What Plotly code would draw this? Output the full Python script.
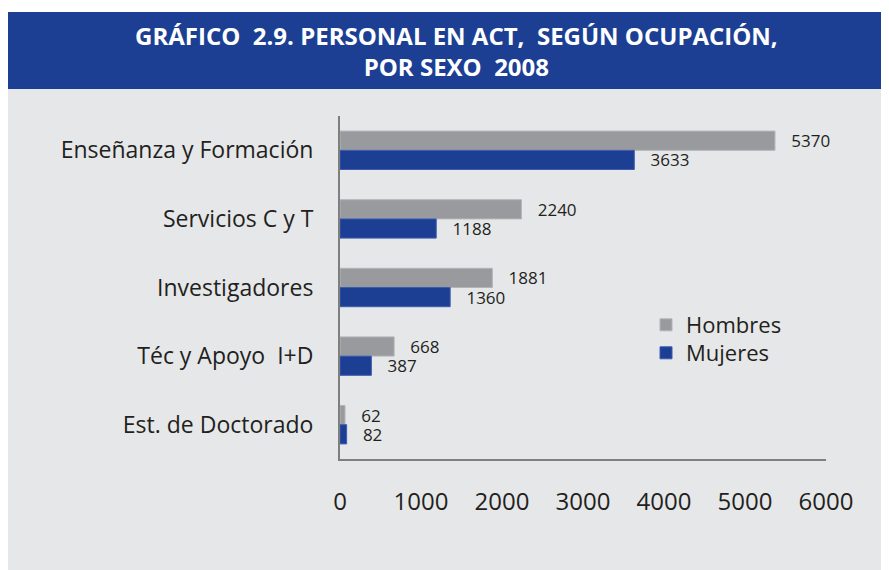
import plotly.graph_objects as go

categories = ["Enseñanza y Formación", "Servicios C y T", "Investigadores", "Téc y Apoyo  I+D", "Est. de Doctorado"]
hombres = [5370, 2240, 1881, 668, 62]
mujeres = [3633, 1188, 1360, 387, 82]
x_ticks = [0, 1000, 2000, 3000, 4000, 5000, 6000]
title_lines = ["GRÁFICO  2.9. PERSONAL EN ACT,  SEGÚN OCUPACIÓN,", "POR SEXO  2008"]

# page body has an 8px margin; figure is sized to fit in the window
OFF = 8
W, H = 889 - OFF, 570 - OFF
L, R, T, B = 340 - OFF, 826 - OFF, 116 - OFF, 459 - OFF  # plot area in figure pixels

def px2x(px):
    return (px - OFF - L) / (R - L)

def px2y(py):
    return (B - (py - OFF)) / (B - T)

FONT = "Open Sans"
GRAY = "#999a9e"
BLUE = "#1c3f94"
BG = "#e6e7e9"
pad = "\u00a0\u00a0\u00a0"

fig = go.Figure()
fig.add_trace(go.Bar(
    y=categories, x=hombres, orientation="h", name="Hombres",
    marker=dict(color=GRAY, line=dict(color="#b4b5b8", width=1)),
    text=[pad + str(v) for v in hombres], textposition="outside", constraintext="none",
    textfont=dict(family=FONT, size=17, color="#231f20"), cliponaxis=False,
    legend="legend",
))
fig.add_trace(go.Bar(
    y=categories, x=mujeres, orientation="h", name="Mujeres",
    marker=dict(color=BLUE, line=dict(color="#3c5cae", width=1)),
    text=[pad + str(v) for v in mujeres], textposition="outside", constraintext="none",
    textfont=dict(family=FONT, size=17, color="#231f20"), cliponaxis=False,
    legend="legend2",
))

shapes = [
    dict(type="rect", xref="paper", yref="paper", x0=px2x(OFF - 1), x1=px2x(900),
         y0=px2y(600), y1=px2y(89), fillcolor=BG, line=dict(width=0), layer="below"),
    dict(type="rect", xref="paper", yref="paper", x0=px2x(OFF), x1=px2x(900),
         y0=px2y(89), y1=px2y(12), fillcolor=BLUE, line=dict(width=0), layer="below"),
]

leg_common = dict(xanchor="left", yanchor="middle", bgcolor="rgba(0,0,0,0)",
                  font=dict(family=FONT, size=22, color="#231f20"), itemwidth=30)

fig.update_layout(
    width=W, height=H,
    margin=dict(l=L, r=W - R, t=T, b=H - B, pad=0),
    paper_bgcolor="white", plot_bgcolor=BG,
    barmode="group", bargap=0.44, bargroupgap=0,
    font=dict(family=FONT, color="#231f20"),
    showlegend=True,
    legend=dict(x=px2x(646), y=px2y(325), **leg_common),
    legend2=dict(x=px2x(646), y=px2y(353), **leg_common),
    shapes=shapes,
    annotations=[dict(
        text="<b>" + title_lines[0] + "</b><br><b>" + title_lines[1] + "</b>",
        xref="paper", yref="paper", x=px2x(456), y=px2y(51),
        xanchor="center", yanchor="middle", showarrow=False,
        font=dict(family=FONT, size=24, color="white"),
    )],
    xaxis=dict(range=[0, 6000], tickvals=x_ticks, ticktext=[str(t) for t in x_ticks],
               showgrid=False, zeroline=False, showline=True, linecolor="#7f7f7f", linewidth=2,
               ticks="outside", ticklen=20, tickcolor="rgba(0,0,0,0)",
               tickfont=dict(family=FONT, size=24, color="#231f20")),
    yaxis=dict(autorange="reversed", showgrid=False, zeroline=False, showline=True,
               linecolor="#7f7f7f", linewidth=2,
               ticks="outside", ticklen=20, tickcolor="rgba(0,0,0,0)",
               tickfont=dict(family=FONT, size=23, color="#231f20")),
)

fig.write_html("out.html")
